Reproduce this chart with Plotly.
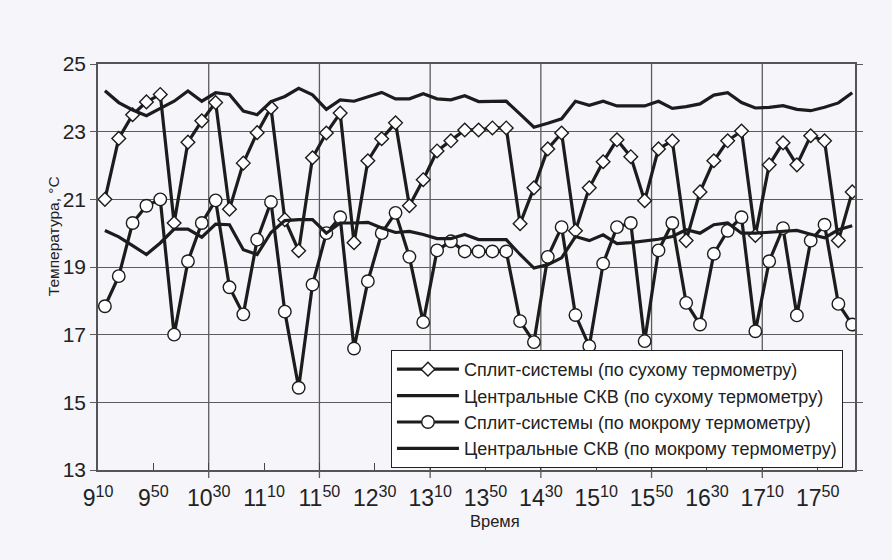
import plotly.graph_objects as go

# ---- data ----
times = ["9:15", "9:25", "9:35", "9:45", "9:55",
         "10:05", "10:15", "10:25", "10:35", "10:45", "10:55",
         "11:05", "11:15", "11:25", "11:35", "11:45", "11:55",
         "12:05", "12:15", "12:25", "12:35", "12:45", "12:55",
         "13:05", "13:15", "13:25", "13:35", "13:45", "13:55",
         "14:05", "14:15", "14:25", "14:35", "14:45", "14:55",
         "15:05", "15:15", "15:25", "15:35", "15:45", "15:55",
         "16:05", "16:15", "16:25", "16:35", "16:45", "16:55",
         "17:05", "17:15", "17:25", "17:35", "17:45", "17:55",
         "18:05", "18:15"]

split_dry = [21.0, 22.8, 23.5, 23.88, 24.1, 20.3, 22.69, 23.32, 23.86, 20.71,
             22.07, 22.97, 23.71, 20.4, 19.48, 22.23, 22.96, 23.55, 19.72, 22.14,
             22.79, 23.26, 20.81, 21.58, 22.43, 22.73, 23.05, 23.05, 23.11, 23.11,
             20.28, 21.34, 22.49, 22.96, 20.07, 21.34, 22.11, 22.76, 22.26, 20.96,
             22.49, 22.73, 19.78, 21.22, 22.14, 22.73, 23.02, 19.93, 22.02, 22.67,
             22.02, 22.88, 22.73, 19.78, 21.22]

central_dry = [24.21, 23.86, 23.64, 23.47, 23.69, 23.9, 24.2, 23.9, 24.15, 24.1,
               23.61, 23.5, 23.89, 24.04, 24.28, 24.09, 23.66, 23.94, 23.9, 24.04,
               24.16, 23.97, 23.97, 24.12, 23.97, 23.94, 24.06, 23.89, 23.9, 23.9,
               23.52, 23.13, 23.25, 23.38, 23.9, 23.78, 23.9, 23.76, 23.76, 23.76,
               23.9, 23.69, 23.74, 23.82, 24.08, 24.15, 23.86, 23.7, 23.72, 23.77,
               23.66, 23.62, 23.72, 23.85, 24.15]

split_wet = [17.84, 18.73, 20.3, 20.81, 21.0, 17.0, 19.17, 20.3, 20.97, 18.4,
             17.6, 19.81, 20.92, 17.68, 15.43, 18.48, 20.0, 20.47, 16.59, 18.58,
             20.0, 20.6, 19.3, 17.37, 19.49, 19.76, 19.46, 19.46, 19.46, 19.46,
             17.4, 16.78, 19.3, 20.18, 17.58, 16.66, 19.1, 20.18, 20.3, 16.81,
             19.49, 20.3, 17.94, 17.3, 19.39, 20.07, 20.47, 17.1, 19.17, 20.15,
             17.57, 19.78, 20.25, 17.91, 17.3]

central_wet = [20.08, 19.89, 19.63, 19.37, 19.71, 20.12, 20.12, 19.88, 20.27, 20.25,
               19.51, 19.37, 20.02, 20.37, 20.4, 20.4, 20.0, 20.3, 20.3, 20.32,
               20.15, 20.02, 20.05, 19.96, 19.84, 19.84, 19.96, 19.81, 19.81, 19.81,
               19.37, 18.97, 19.07, 19.27, 19.9, 19.78, 19.95, 19.69, 19.72, 19.76,
               19.82, 19.9, 20.1, 20.0, 20.25, 20.3, 20.0, 20.0, 20.03, 20.05,
               20.08, 19.97, 19.86, 20.1, 20.22]

tick_times = ["9:10", "9:50", "10:30", "11:10", "11:50", "12:30", "13:10",
              "13:50", "14:30", "15:10", "15:50", "16:30", "17:10", "17:50"]
grid_times = ["10:30", "11:50", "13:10", "14:30", "15:50", "17:10"]
axis_start, axis_end = "9:10", "18:17"

y_ticks = [13, 15, 17, 19, 21, 23, 25]

names = ["Сплит-системы (по сухому термометру)",
         "Центральные СКВ (по сухому термометру)",
         "Сплит-системы (по мокрому термометру)",
         "Центральные СКВ (по мокрому термометру)"]


def to_min(t):
    h, m = t.split(":")
    return int(h) * 60 + int(m)


def tick_label(t):
    h, m = t.split(":")
    return f"{h}<sup>{m}</sup>"


x = [to_min(t) for t in times]
INK = "#1c1c1c"
GRID = "#5c5c5c"
BG = "#f5f5fa"
FONT = "Liberation Sans, Arial, sans-serif"

fig = go.Figure()
fig.add_trace(go.Scatter(
    x=x, y=split_dry, name=names[0], mode="lines+markers",
    line=dict(color=INK, width=3.2),
    marker=dict(symbol="diamond", size=10.5, color="white",
                line=dict(color=INK, width=1.4))))
fig.add_trace(go.Scatter(
    x=x, y=central_dry, name=names[1], mode="lines",
    line=dict(color=INK, width=3.2)))
fig.add_trace(go.Scatter(
    x=x, y=split_wet, name=names[2], mode="lines+markers",
    line=dict(color=INK, width=3.2),
    marker=dict(symbol="circle", size=12.5, color="white",
                line=dict(color=INK, width=1.4))))
fig.add_trace(go.Scatter(
    x=x, y=central_wet, name=names[3], mode="lines",
    line=dict(color=INK, width=3.2)))

xr = [to_min(axis_start), to_min(axis_end)]

# vertical grid lines (with a short tick below the axis) at the grid times
plot_h = 560 - 64 - 90
grid_shapes = [dict(type="line", xref="x", yref="paper",
                    x0=to_min(t), x1=to_min(t), y0=-8 / plot_h, y1=1,
                    line=dict(color=GRID, width=1.3), layer="below")
               for t in grid_times]

fig.update_layout(
    width=892, height=560,
    margin=dict(l=98, r=37, t=64, b=90),
    paper_bgcolor=BG, plot_bgcolor=BG,
    font=dict(family=FONT, color="#222222"),
    showlegend=True,
    legend=dict(x=0.387, y=0.2956, xanchor="left", yanchor="top",
                bgcolor="white", bordercolor="#222222", borderwidth=1,
                font=dict(size=18, family=FONT, color="#222222"),
                itemwidth=62, tracegroupgap=0),
    xaxis=dict(range=xr, tickmode="array",
               tickvals=[to_min(t) for t in tick_times],
               ticktext=[tick_label(t) for t in tick_times],
               ticks="inside", ticklen=7, tickwidth=1.3, tickcolor="#444444",
               ticklabelstandoff=7,
               showgrid=False, zeroline=False,
               showline=True, mirror=True, linecolor="#555555", linewidth=1.5,
               tickfont=dict(size=23, family=FONT, color="#222222")),
    yaxis=dict(range=[13, 25], tickmode="array", tickvals=y_ticks,
               ticks="outside", ticklen=6, tickwidth=1.3, tickcolor=GRID,
               showgrid=True, gridcolor=GRID, gridwidth=1.3, zeroline=False,
               showline=True, mirror="allticks", linecolor="#555555", linewidth=1.5,
               tickfont=dict(size=21, family=FONT, color="#222222")),
    shapes=grid_shapes,
    annotations=[
        dict(text="Время", xref="paper", yref="paper",
             x=0.524, y=-0.1256, xanchor="center", yanchor="middle",
             showarrow=False,
             font=dict(size=16.5, family=FONT, color="#222222")),
        dict(text="Температура, °C", xref="paper", yref="paper",
             x=-0.0594, y=0.576, xanchor="center", yanchor="middle",
             textangle=-90, showarrow=False,
             font=dict(size=15.5, family=FONT, color="#222222")),
    ],
)

fig.write_html("out.html")
